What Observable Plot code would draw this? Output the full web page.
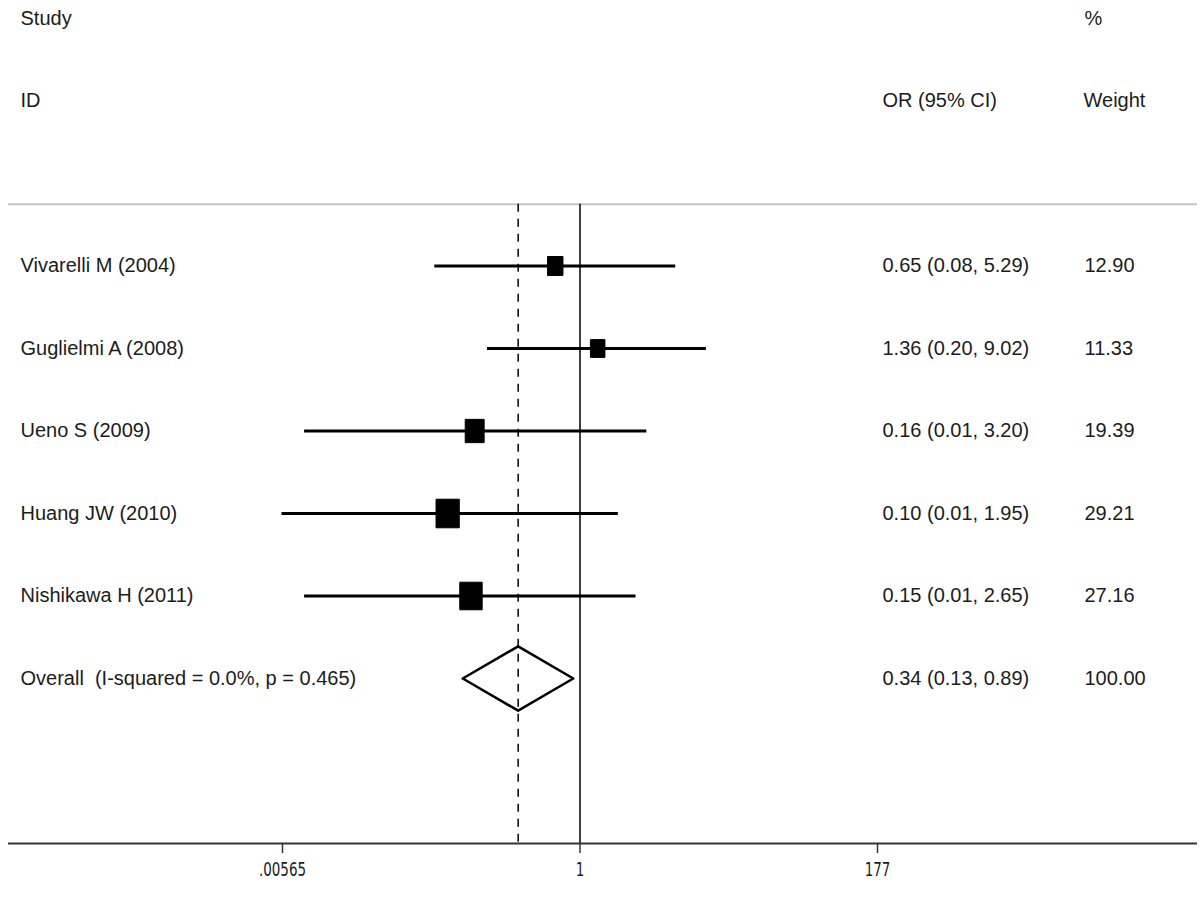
<!DOCTYPE html>
<html><head><meta charset="utf-8">
<script src="https://cdn.jsdelivr.net/npm/d3@7"></script>
<script src="https://cdn.jsdelivr.net/npm/@observablehq/plot@0.6"></script>
<style>
body{margin:0;background:#fff}
.stretch{transform-box:fill-box;transform-origin:center;transform:scaleY(1.35)}
</style>
</head><body><div id="chart"></div>
<script>
// ---- data ----
const studies = ["Vivarelli M (2004)", "Guglielmi A (2008)", "Ueno S (2009)", "Huang JW (2010)", "Nishikawa H (2011)"];
const orValues = [0.65, 1.36, 0.16, 0.10, 0.15];
const ciLow = [0.08, 0.20, 0.0083, 0.0056, 0.0083];
const ciHigh = [5.29, 9.02, 3.20, 1.95, 2.65];
const ciLabels = ["0.65 (0.08, 5.29)", "1.36 (0.20, 9.02)", "0.16 (0.01, 3.20)", "0.10 (0.01, 1.95)", "0.15 (0.01, 2.65)"];
const weights = [12.90, 11.33, 19.39, 29.21, 27.16];
const weightLabels = ["12.90", "11.33", "19.39", "29.21", "27.16"];

const overallLabel = "Overall  (I-squared = 0.0%, p = 0.465)";
const overallOR = 0.341;
const overallLow = 0.13;
const overallHigh = 0.89;
const overallCI = "0.34 (0.13, 0.89)";
const overallWeight = "100.00";

const axisTicks = [0.00565, 1, 177];
const axisLabels = [".00565", "1", "177"];

// ---- layout helpers ----
const rows = studies.map((s, i) => ({
  row: i, study: s, or: orValues[i], lo: ciLow[i], hi: ciHigh[i],
  ci: ciLabels[i], w: weights[i], wl: weightLabels[i]
}));
const overallRow = studies.length;
const axisRow = 7;
const textRows = [...rows.map(d => ({row: d.row, study: d.study, ci: d.ci, wl: d.wl})),
  {row: overallRow, study: overallLabel, ci: overallCI, wl: overallWeight}];
const tickData = axisTicks.map((t, i) => ({t, label: axisLabels[i]}));

const dh = 0.39; // diamond half-height in row units
const diamond = [
  {x: overallLow, y: overallRow},
  {x: overallOR, y: overallRow - dh},
  {x: overallHigh, y: overallRow},
  {x: overallOR, y: overallRow + dh},
  {x: overallLow, y: overallRow}
];

const boxSymbol = {
  draw(ctx, size) {
    const r = Math.sqrt(size / Math.PI);
    const hw = r, hh = r * 1.23;
    ctx.moveTo(-hw, -hh); ctx.lineTo(hw, -hh); ctx.lineTo(hw, hh); ctx.lineTo(-hw, hh); ctx.closePath();
  }
};

const font = "'Liberation Sans', Arial, sans-serif";
const narrow = "'Liberation Sans Narrow', 'Arial Narrow', 'DejaVu Sans Condensed', sans-serif";
const ink = "#1c1c1c";
const FS = 20;

const chart = Plot.plot({
  width: 1200,
  height: 900,
  marginLeft: 8,
  marginRight: 3,
  marginTop: 0,
  marginBottom: 57,
  style: {fontFamily: font, color: ink, background: "#fff"},
  x: {type: "log", domain: [0.00565, 177], range: [282, 877], label: null, axis: null},
  y: {domain: [-3, 7], range: [18, 843], axis: null},
  r: {type: "identity"},
  marks: [
    // header separator
    Plot.ruleY([-0.75], {stroke: "#c4c4c4", strokeWidth: 2}),
    // reference lines
    Plot.ruleX([1], {y1: -0.75, y2: axisRow, stroke: "#000", strokeWidth: 1.5}),
    Plot.ruleX([overallOR], {y1: -0.75, y2: axisRow, stroke: "#000", strokeWidth: 1.5, strokeDasharray: "8,7"}),
    // confidence intervals
    Plot.ruleY(rows, {y: "row", x1: "lo", x2: "hi", stroke: "#000", strokeWidth: 3}),
    // weight boxes
    Plot.dot(rows, {x: "or", y: "row", r: d => 2.15 * Math.sqrt(d.w), symbol: boxSymbol, fill: "#000", stroke: "#000", strokeWidth: 1, strokeLinejoin: "round"}),
    // overall diamond
    Plot.line(diamond, {x: "x", y: "y", stroke: "#000", strokeWidth: 2.5, fill: "none", curve: "linear"}),
    // axis line, ticks and labels
    Plot.ruleY([axisRow], {stroke: "#333", strokeWidth: 2}),
    Plot.ruleX(tickData, {x: "t", y1: axisRow, y2: axisRow + 10 / 82.5, stroke: "#333", strokeWidth: 1.5}),
    Plot.text(tickData, {x: "t", frameAnchor: "bottom", dy: 31, text: "label", fontSize: 15, fontFamily: narrow, fill: ink, ariaDescription: "tick-labels"}),
    // headers
    Plot.text(["Study"], {frameAnchor: "left", y: () => -3, dx: 12, textAnchor: "start", fontSize: FS, fill: ink}),
    Plot.text(["ID"], {frameAnchor: "left", y: () => -2, dx: 12, textAnchor: "start", fontSize: FS, fill: ink}),
    Plot.text(["OR (95% CI)"], {frameAnchor: "left", y: () => -2, dx: 874, textAnchor: "start", fontSize: FS, fill: ink}),
    Plot.text(["%"], {frameAnchor: "left", y: () => -3, dx: 1076, textAnchor: "start", fontSize: FS, fill: ink}),
    Plot.text(["Weight"], {frameAnchor: "left", y: () => -2, dx: 1075, textAnchor: "start", fontSize: FS, fill: ink}),
    // row text columns
    Plot.text(textRows, {frameAnchor: "left", y: "row", text: "study", dx: 12, textAnchor: "start", fontSize: FS, fill: ink}),
    Plot.text(textRows, {frameAnchor: "left", y: "row", text: "ci", dx: 874, textAnchor: "start", fontSize: FS, fill: ink}),
    Plot.text(textRows, {frameAnchor: "left", y: "row", text: "wl", dx: 1076, textAnchor: "start", fontSize: FS, fill: ink})
  ]
});
// vertically stretch the tick labels (the reference's axis font is tall and narrow)
const tl = chart.querySelector('g[aria-description="tick-labels"]');
if (tl) {
  const wrap = document.createElementNS("http://www.w3.org/2000/svg", "g");
  wrap.setAttribute("class", "stretch");
  tl.parentNode.insertBefore(wrap, tl);
  wrap.appendChild(tl);
}
document.getElementById("chart").appendChild(chart);
</script>
</body></html>
